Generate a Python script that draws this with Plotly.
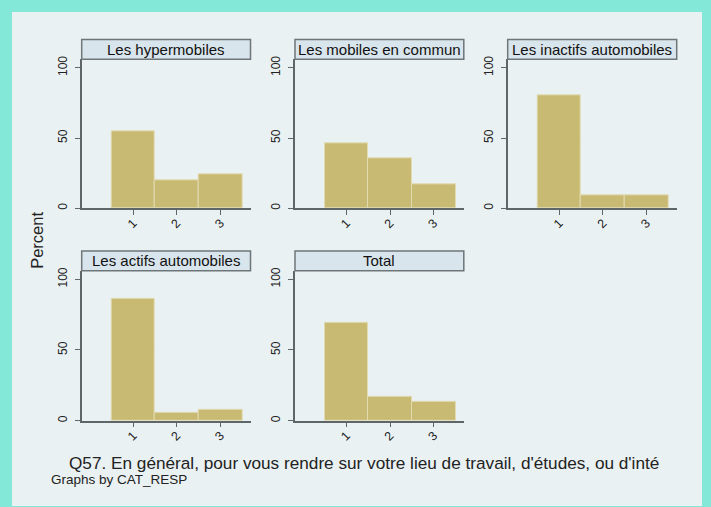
import plotly.graph_objects as go

# ---- data ----
categories = [1, 2, 3]
panel_titles = ["Les hypermobiles", "Les mobiles en commun", "Les inactifs automobiles",
                "Les actifs automobiles", "Total"]
hypermobiles = [54.6, 20.0, 24.3]
mobiles_en_commun = [46.1, 35.6, 16.9]
inactifs_automobiles = [80.3, 8.9, 9.4]
actifs_automobiles = [86.0, 5.4, 7.7]
total = [69.0, 16.8, 13.6]
y_ticks = [0, 50, 100]
x_tick_labels = ["1", "2", "3"]
caption = "Q57. En général, pour vous rendre sur votre lieu de travail, d'études, ou d'inté"
note = "Graphs by CAT_RESP"
y_title = "Percent"

series = [hypermobiles, mobiles_en_commun, inactifs_automobiles, actifs_automobiles, total]

W, H = 711, 507
FONT = "Liberation Sans, Arial, sans-serif"
BAR = "#C8BA72"
BAR_LINE = "#E2DBB2"
AXIS = "#5E6668"
PANEL_BG = "#EAF1F3"
OUTER = "#83E8D7"
STRIP_FILL = "#D9E5EC"
STRIP_LINE = "#6E7679"

# pixel geometry of plot regions (left, right, top, bottom)
cols = [(81.7, 250.5), (295.0, 463.8), (507.7, 676.7)]
rows = [(56.0, 206.7), (270.0, 421.7)]
positions = [(0, 0), (0, 1), (0, 2), (1, 0), (1, 1)]
STRIP_H = 20


def fx(px):
    return px / W


def fy(py):
    return 1 - py / H


fig = go.Figure()
shapes = []
annotations = []

# inner light panel
shapes.append(dict(type="rect", xref="paper", yref="paper", x0=fx(12), x1=fx(702),
                   y0=fy(508), y1=fy(8), fillcolor=PANEL_BG, line=dict(width=0), layer="below"))

layout_axes = {}
for i, (vals, title, (r, c)) in enumerate(zip(series, panel_titles, positions)):
    n = i + 1
    xl, xr = cols[c]
    yt, yb = rows[r]
    xa = "x" if n == 1 else f"x{n}"
    ya = "y" if n == 1 else f"y{n}"
    fig.add_trace(go.Bar(x=categories, y=vals, width=1.0, xaxis=xa, yaxis=ya,
                         marker=dict(color=BAR, line=dict(color=BAR_LINE, width=1)),
                         showlegend=False, hoverinfo="x+y"))
    layout_axes[f"xaxis{n}"] = dict(
        domain=[fx(xl), fx(xr)], anchor=ya, range=[-0.18, 3.69],
        tickmode="array", tickvals=categories, ticktext=x_tick_labels, tickangle=-45,
        ticks="outside", ticklen=5, tickwidth=1, tickcolor=AXIS, ticklabelstandoff=-4,
        showline=True, linecolor=AXIS, linewidth=1.5, showgrid=False, zeroline=False,
        tickfont=dict(family=FONT, size=12.5, color="#222222"), fixedrange=True)
    layout_axes[f"yaxis{n}"] = dict(
        domain=[fy(yb), fy(yt)], anchor=xa, range=[0, 106],
        tickmode="array", tickvals=y_ticks, ticktext=[str(v) for v in y_ticks], tickangle=-90,
        ticks="outside", ticklen=5, tickwidth=1, tickcolor=AXIS, ticklabelstandoff=3,
        showline=True, linecolor=AXIS, linewidth=1.5, showgrid=True,
        gridcolor="#E8F0F2", gridwidth=1, zeroline=False,
        tickfont=dict(family=FONT, size=12, color="#222222"), fixedrange=True)
    # strip
    shapes.append(dict(type="rect", xref="paper", yref="paper", x0=fx(xl), x1=fx(xr),
                       y0=fy(yt), y1=fy(yt - STRIP_H), fillcolor=STRIP_FILL,
                       line=dict(color=STRIP_LINE, width=1.5), layer="above"))
    annotations.append(dict(text=title, xref="paper", yref="paper",
                            x=fx((xl + xr) / 2), y=fy(yt - STRIP_H / 2),
                            xanchor="center", yanchor="middle", showarrow=False,
                            font=dict(family=FONT, size=15, color="#111111")))

annotations.append(dict(text=y_title, xref="paper", yref="paper", x=fx(36.7), y=fy(239),
                        xanchor="center", yanchor="middle", textangle=-90, showarrow=False,
                        font=dict(family=FONT, size=16.5, color="#222222")))
annotations.append(dict(text=caption, xref="paper", yref="paper", x=fx(67), y=fy(464),
                        xanchor="left", yanchor="middle", showarrow=False,
                        font=dict(family=FONT, size=17.2, color="#222222")))
annotations.append(dict(text=note, xref="paper", yref="paper", x=fx(49), y=fy(481.5),
                        xanchor="left", yanchor="middle", showarrow=False,
                        font=dict(family=FONT, size=13.5, color="#222222")))

fig.update_layout(
    width=W, height=H, margin=dict(l=0, r=0, t=0, b=0),
    paper_bgcolor=OUTER, plot_bgcolor="white",
    shapes=shapes, annotations=annotations, bargap=0,
    **layout_axes)

fig.write_html("out.html", config={"displayModeBar": False},
               post_script="document.body.style.margin='0';document.body.style.overflow='hidden';")
